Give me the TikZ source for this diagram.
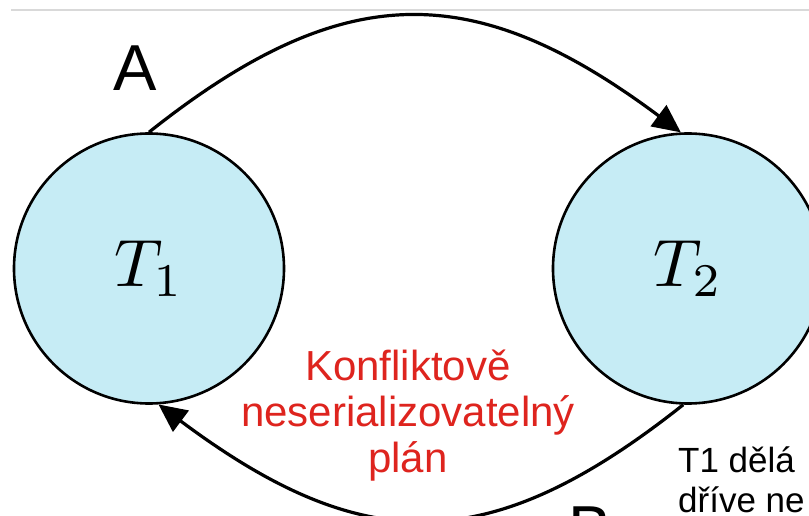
\documentclass[tikz,border=0pt]{standalone}
\usepackage[no-math]{fontspec}
\setmainfont{Liberation Sans}
\usepackage{tikz}
\usetikzlibrary{arrows.meta}
\definecolor{txfill}{RGB}{198,236,245}
\definecolor{planred}{RGB}{222,36,30}
\tikzstyle{txn}=[draw, circle, fill=txfill, line width=2.6pt, minimum size=270pt, inner sep=0pt]
\tikzstyle{dep}=[line width=3.2pt, -{Triangle[length=28pt,width=26pt]}]
\tikzstyle{lbl}=[inner sep=0pt, font=\fontsize{65}{65}\selectfont]
\tikzstyle{plan}=[inner sep=0pt, align=center, text=planred, font=\fontsize{42}{46}\selectfont]
\tikzstyle{note}=[inner sep=0pt, align=left, font=\fontsize{35}{40}\selectfont]

\begin{document}
\begin{tikzpicture}[x=1pt, y=-1pt]
        \useasboundingbox (0,0) rectangle (809,516);
        \clip (0,0) rectangle (809,516);
        \draw[gray!30, line width=1.2pt] (11,10) -- (809,10);
        \node[txn] (T1) at (149, 268.5) {\scalebox{6.7}{$T_1$}};
        \node[txn] (T2) at (688, 268.5) {\scalebox{6.7}{$T_2$}};
        \draw[dep] (T1.north) .. controls (343, -22) and (474, -22) .. (T2.93);
        \draw[dep] (T2.268) .. controls (490, 558) and (364, 558) .. (T1.274);
        \node[lbl] (A) at (135, 68.5) {A};
        \node[lbl] (B) at (590, 529.5) {B};
        \node[plan, anchor=base] (plan) at (408, 472) {Konfliktově\\neserializovatelný\\plán};
        \node[note, anchor=base west] (note) at (678, 512) {T1 dělá\\dříve ne};
    \end{tikzpicture}
\end{document}
